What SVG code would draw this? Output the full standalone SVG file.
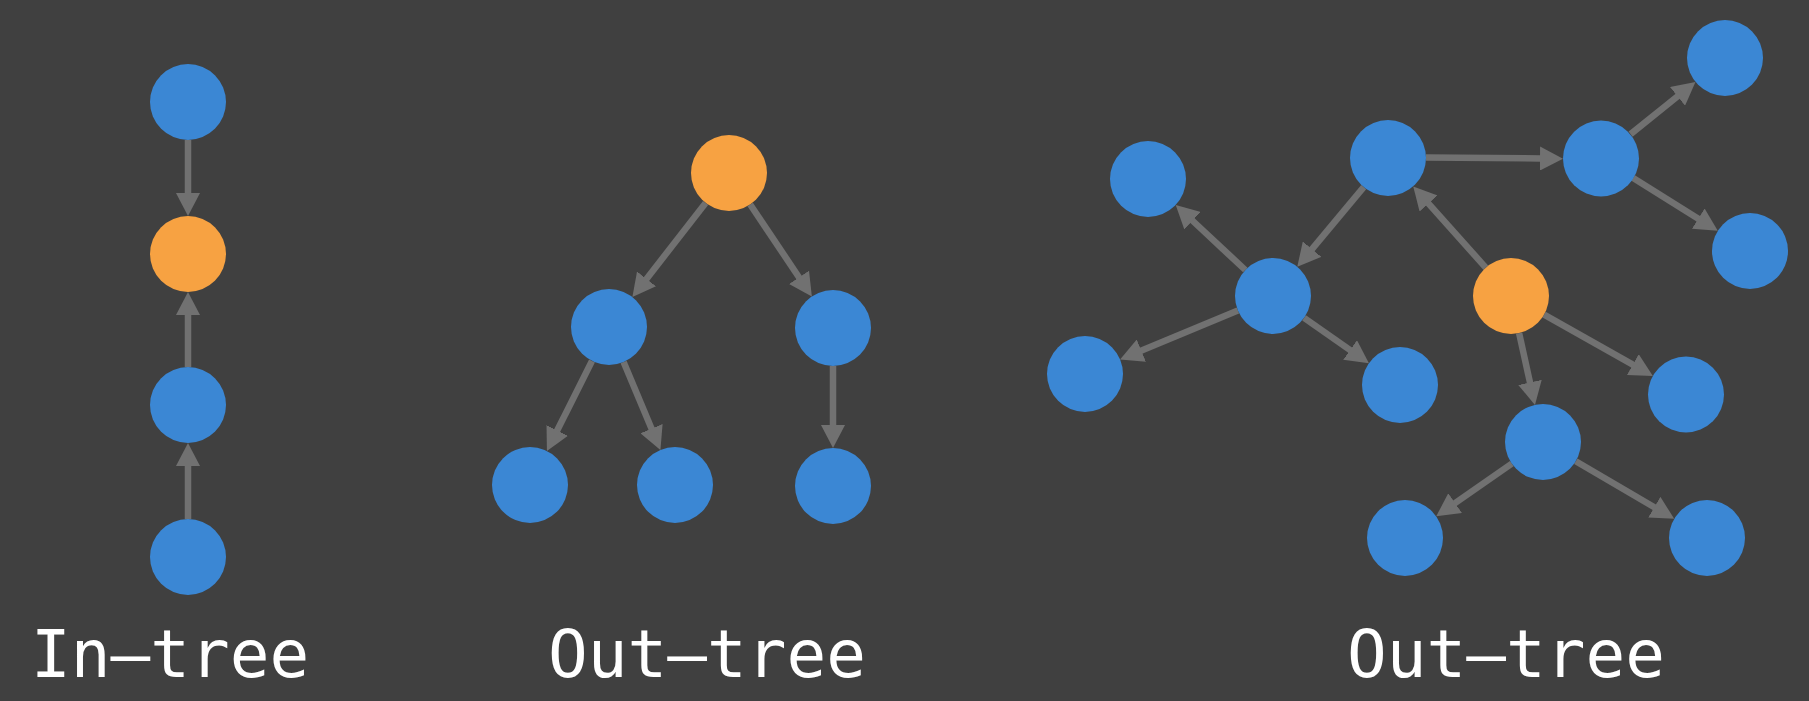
<svg xmlns="http://www.w3.org/2000/svg" width="1809" height="701" viewBox="0 0 1809 701">
<defs>
<style>
.n{fill:#3b87d4}
.o{fill:#f7a242}
.e line{stroke:#717171;stroke-width:6.5;marker-end:url(#ah)}
.t{font-family:"DejaVu Sans Mono","Liberation Mono",monospace;font-size:66px;fill:#ffffff}
</style>
<marker id="ah" viewBox="0 0 24 24" markerWidth="24" markerHeight="24" refX="1" refY="12" orient="auto" markerUnits="userSpaceOnUse">
<path d="M0,0 L23,12 L0,24 z" fill="#717171"/>
</marker>
</defs>
<rect width="1809" height="701" fill="#404040"/>
<g id="connectors" class="e">
<line x1="188" y1="140" x2="188" y2="194"/>
<line x1="188" y1="367" x2="188" y2="314"/>
<line x1="188" y1="519" x2="188" y2="465"/>
<line x1="705.6" y1="203" x2="645.9" y2="279.7"/>
<line x1="750.2" y1="204.5" x2="799.6" y2="278.2"/>
<line x1="592" y1="361" x2="556.8" y2="431.3"/>
<line x1="623.6" y1="362.1" x2="651.9" y2="429.6"/>
<line x1="833" y1="366" x2="833" y2="426"/>
<line x1="1363.7" y1="187.2" x2="1311.4" y2="249.9"/>
<line x1="1426" y1="157.5" x2="1541" y2="158.5"/>
<line x1="1630.6" y1="134.1" x2="1678.3" y2="95.7"/>
<line x1="1633.2" y1="178.1" x2="1699.1" y2="219.2"/>
<line x1="1485.7" y1="267.6" x2="1427.9" y2="202.8"/>
<line x1="1245.3" y1="270" x2="1191.8" y2="220"/>
<line x1="1237.9" y1="310.6" x2="1140.4" y2="351"/>
<line x1="1304.1" y1="317.8" x2="1350.9" y2="350.6"/>
<line x1="1544.1" y1="314.6" x2="1633.7" y2="365.1"/>
<line x1="1519.1" y1="333.1" x2="1530.2" y2="383.4"/>
<line x1="1511.8" y1="463.7" x2="1454.3" y2="503.7"/>
<line x1="1575.8" y1="461.2" x2="1655.2" y2="507.7"/>
</g>
<g id="in1"><circle class="n" cx="188" cy="102" r="38"/></g>
<g id="in2"><circle class="o" cx="188" cy="254" r="38"/></g>
<g id="in3"><circle class="n" cx="188" cy="405" r="38"/></g>
<g id="in4"><circle class="n" cx="188" cy="557" r="38"/></g>
<g id="m_root"><circle class="o" cx="729" cy="173" r="38"/></g>
<g id="m_l"><circle class="n" cx="609" cy="327" r="38"/></g>
<g id="m_r"><circle class="n" cx="833" cy="328" r="38"/></g>
<g id="m_ll"><circle class="n" cx="530" cy="485" r="38"/></g>
<g id="m_lr"><circle class="n" cx="675" cy="485" r="38"/></g>
<g id="m_rr"><circle class="n" cx="833" cy="486" r="38"/></g>
<g id="r_a"><circle class="n" cx="1148" cy="179" r="38"/></g>
<g id="r_b"><circle class="n" cx="1273" cy="296" r="38"/></g>
<g id="r_c"><circle class="n" cx="1388" cy="158" r="38"/></g>
<g id="r_d"><circle class="n" cx="1601" cy="158.5" r="38"/></g>
<g id="r_e"><circle class="n" cx="1725" cy="58" r="38"/></g>
<g id="r_f"><circle class="n" cx="1750" cy="251" r="38"/></g>
<g id="r_g"><circle class="o" cx="1511" cy="296" r="38"/></g>
<g id="r_h"><circle class="n" cx="1085" cy="374" r="38"/></g>
<g id="r_i"><circle class="n" cx="1400" cy="385" r="38"/></g>
<g id="r_j"><circle class="n" cx="1686" cy="394.5" r="38"/></g>
<g id="r_k"><circle class="n" cx="1543" cy="442" r="38"/></g>
<g id="r_l"><circle class="n" cx="1405" cy="538" r="38"/></g>
<g id="r_m"><circle class="n" cx="1707" cy="538" r="38"/></g>
<g id="labels">
<text class="t" x="31" y="677">In–tree</text>
<text class="t" x="548" y="677">Out–tree</text>
<text class="t" x="1347" y="677">Out–tree</text>
</g>
</svg>
